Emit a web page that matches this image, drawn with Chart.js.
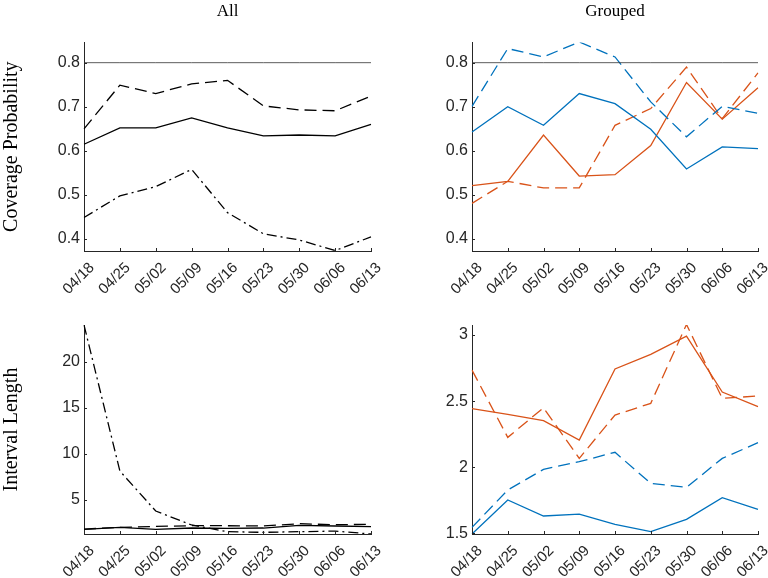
<!DOCTYPE html>
<html>
<head>
<meta charset="utf-8">
<script src="https://cdn.jsdelivr.net/npm/chart.js@4.4.1/dist/chart.umd.min.js"></script>
<style>
  body { margin: 0; background: #fff; }
  #wrap { position: relative; width: 768px; height: 578px; }
  canvas { position: absolute; }
</style>
</head>
<body>
<div id="wrap">
  <canvas id="covAll" width="384" height="300" style="left:0;top:0"></canvas>
  <canvas id="covGrp" width="384" height="300" style="left:384px;top:0"></canvas>
  <canvas id="lenAll" width="384" height="278" style="left:0;top:300px"></canvas>
  <canvas id="lenGrp" width="384" height="278" style="left:384px;top:300px"></canvas>
</div>
<script>
const dates = ["04/18", "04/25", "05/02", "05/09", "05/16", "05/23", "05/30", "06/06", "06/13"]
const nominal = 0.8

// coverage probability, all
const covAllSolid = [0.615, 0.652, 0.652, 0.675, 0.652, 0.634, 0.636, 0.634, 0.660]
const covAllDashed = [0.650, 0.749, 0.730, 0.752, 0.760, 0.702, 0.693, 0.691, 0.724]
const covAllDashDot = [0.449, 0.498, 0.519, 0.558, 0.460, 0.412, 0.398, 0.374, 0.405]

// coverage probability, grouped
const covBlueSolid = [0.643, 0.700, 0.658, 0.730, 0.707, 0.649, 0.559, 0.609, 0.605]
const covBlueDashed = [0.701, 0.832, 0.813, 0.847, 0.813, 0.711, 0.632, 0.701, 0.685]
const covRedSolid = [0.521, 0.531, 0.636, 0.543, 0.546, 0.612, 0.755, 0.672, 0.743]
const covRedDashed = [0.481, 0.531, 0.516, 0.516, 0.658, 0.696, 0.790, 0.673, 0.777]

// interval length, all
const lenAllSolid = [1.78, 1.99, 1.78, 1.92, 1.88, 1.92, 2.21, 2.14, 2.07]
const lenAllDashed = [1.81, 1.99, 2.10, 2.17, 2.17, 2.14, 2.39, 2.28, 2.32]
const lenAllDashDot = [24.0, 8.12, 3.77, 2.25, 1.52, 1.45, 1.52, 1.59, 1.27]

// interval length, grouped
const lenBlueSolid = [1.495, 1.752, 1.631, 1.646, 1.568, 1.513, 1.606, 1.770, 1.682]
const lenBlueDashed = [1.545, 1.828, 1.984, 2.042, 2.113, 1.878, 1.848, 2.067, 2.186]
const lenRedSolid = [2.443, 2.400, 2.352, 2.206, 2.743, 2.854, 2.992, 2.569, 2.458]
const lenRedDashed = [2.735, 2.226, 2.450, 2.067, 2.395, 2.483, 3.080, 2.521, 2.539]

const covTicks = [0.4, 0.5, 0.6, 0.7, 0.8]
const lenAllTicks = [5, 10, 15, 20]
const lenGrpTicks = [1.5, 2, 2.5, 3]

const BLUE = "#0072BD"
const RED = "#D95319"
const AXIS = "#262626"
const DASH = [12, 6]
const DASHDOT = [10, 4, 2, 4]
const SANS = "'Liberation Sans', Arial, sans-serif"
const SERIF = "'Liberation Serif', serif"

const line = (data, color, dash, width = 1.3) => ({
  data,
  borderColor: color,
  borderWidth: width,
  borderDash: dash,
  pointRadius: 0,
  tension: 0,
  fill: false,
})

// small tick marks pointing into the plot, like matlab
const inwardTicks = {
  id: "inwardTicks",
  afterDraw(chart) {
    const ctx = chart.ctx
    const { x, y } = chart.scales
    ctx.save()
    ctx.strokeStyle = AXIS
    ctx.lineWidth = 1
    x.ticks.forEach((t, i) => {
      const px = Math.round(x.getPixelForTick(i)) + 0.5
      ctx.beginPath()
      ctx.moveTo(px, y.bottom)
      ctx.lineTo(px, y.bottom - 3)
      ctx.stroke()
    })
    y.ticks.forEach((t, i) => {
      const py = Math.round(y.getPixelForTick(i)) + 0.5
      ctx.beginPath()
      ctx.moveTo(x.left, py)
      ctx.lineTo(x.left + 3, py)
      ctx.stroke()
    })
    ctx.restore()
  },
}

const makePanel = (id, datasets, cfg) => {
  new Chart(document.getElementById(id), {
    type: "line",
    data: { labels: dates, datasets },
    plugins: [inwardTicks],
    options: {
      responsive: false,
      animation: false,
      layout: { padding: { top: cfg.padTop, right: cfg.padRight, left: 0, bottom: 0 } },
      plugins: {
        legend: { display: false },
        tooltip: { enabled: false },
        title: {
          display: !!cfg.title,
          text: cfg.title,
          fullSize: false,
          color: "#000",
          font: { family: SERIF, size: 17, weight: "normal" },
          padding: { top: 1, bottom: 21 },
        },
      },
      scales: {
        x: {
          offset: false,
          grid: { drawOnChartArea: false, drawTicks: false },
          border: { color: AXIS, width: 1 },
          ticks: {
            color: AXIS,
            font: { family: SANS, size: 15 },
            maxRotation: 45,
            minRotation: 45,
            padding: 8,
            labelOffset: 8,
            autoSkip: false,
          },
          afterFit: (s) => {
            s.height = cfg.xHeight
            s.paddingLeft = 0
            s.paddingRight = 0
          },
        },
        y: {
          min: cfg.yMin,
          max: cfg.yMax,
          afterBuildTicks: (s) => { s.ticks = cfg.ticks.map((v) => ({ value: v })) },
          grid: { drawOnChartArea: false, drawTicks: false },
          border: { color: AXIS, width: 1 },
          ticks: {
            color: AXIS,
            font: { family: SANS, size: 16 },
            padding: 4,
            callback: (v) => String(+v.toFixed(2)),
          },
          title: {
            display: !!cfg.yTitle,
            text: cfg.yTitle,
            color: "#000",
            font: { family: SERIF, size: 20, weight: "normal" },
            padding: { top: 0, bottom: 0 },
          },
          afterFit: (s) => { s.width = cfg.yWidth },
        },
      },
    },
  })
}

const refLine = () => line(dates.map(() => nominal), "#333", [], 0.8)

makePanel("covAll", [
  refLine(),
  line(covAllSolid, "#000", []),
  line(covAllDashed, "#000", DASH),
  line(covAllDashDot, "#000", DASHDOT),
], { title: "All", yTitle: "Coverage Probability", yMin: 0.373, yMax: 0.846, ticks: covTicks,
     padTop: 0, padRight: 13, xHeight: 49, yWidth: 84 })

makePanel("covGrp", [
  refLine(),
  line(covBlueSolid, BLUE, []),
  line(covBlueDashed, BLUE, DASH),
  line(covRedSolid, RED, []),
  line(covRedDashed, RED, DASH),
], { title: "Grouped", yMin: 0.373, yMax: 0.846, ticks: covTicks,
     padTop: 0, padRight: 10, xHeight: 49, yWidth: 88 })

makePanel("lenAll", [
  line(lenAllSolid, "#000", []),
  line(lenAllDashed, "#000", DASH),
  line(lenAllDashDot, "#000", DASHDOT),
], { yTitle: "Interval Length", yMin: 1.27, yMax: 24, ticks: lenAllTicks,
     padTop: 25, padRight: 13, xHeight: 44, yWidth: 84 })

makePanel("lenGrp", [
  line(lenBlueSolid, BLUE, []),
  line(lenBlueDashed, BLUE, DASH),
  line(lenRedSolid, RED, []),
  line(lenRedDashed, RED, DASH),
], { yMin: 1.495, yMax: 3.076, ticks: lenGrpTicks,
     padTop: 25, padRight: 10, xHeight: 44, yWidth: 88 })
</script>
</body>
</html>
